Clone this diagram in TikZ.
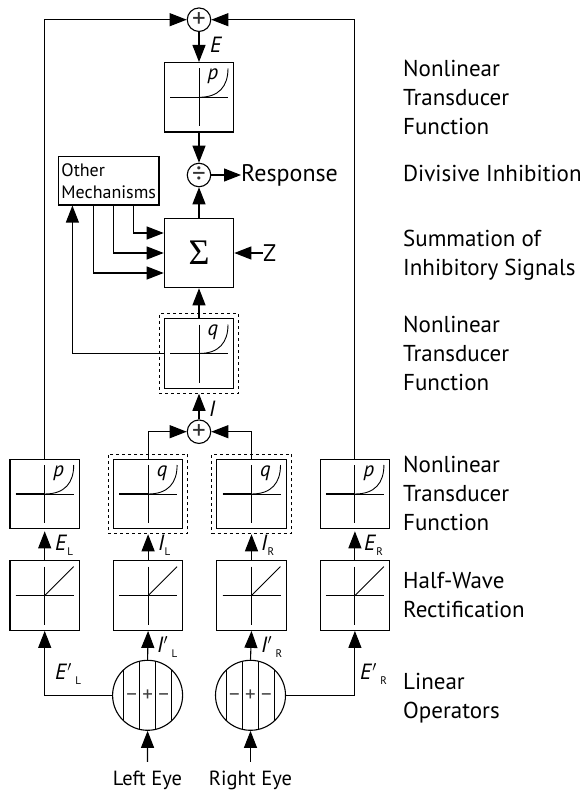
\documentclass[tikz,border=0pt]{standalone}
\usepackage{fontspec}
\setmainfont{PT Sans}
\newfontfamily\sigmafont{Liberation Serif}
\usepackage{tikz}
\usetikzlibrary{positioning,calc,fit,arrows.meta}
\tikzset{
  signal/.style={-{Triangle[length=17pt,width=13pt]},line width=1.1pt},
  funcbox/.style={draw,line width=1.1pt,minimum size=69.5pt,inner sep=0pt},
  dashbox/.style={draw,dashed,dash pattern=on 3pt off 3pt,line width=0.9pt,inner sep=4.5pt},
  sumnode/.style={draw,circle,line width=1.1pt,minimum size=23.5pt,inner sep=0pt,text=black!80,font=\fontsize{27}{27}\selectfont},
  lensnode/.style={draw,circle,line width=1.1pt,minimum size=70pt,inner sep=0pt,text=black!75,font=\fontsize{21}{21}\selectfont},
  eyelabel/.style={inner sep=1pt,minimum height=36pt,font=\fontsize{20.5}{20.5}\selectfont},
  rowlabel/.style={anchor=west,align=left,inner sep=0pt,font=\fontsize{23}{29}\selectfont},
  varlabel/.style={anchor=west,inner sep=0pt,font=\fontsize{22}{22}\selectfont}
}
\newcommand{\idx}[1]{\raisebox{-5pt}{\fontsize{11}{11}\selectfont #1}}
\newcommand{\lensmarks}{\makebox[16pt]{−}\makebox[16pt]{+}\makebox[16pt]{−}}
\newcommand{\axes}[1]{
  \draw[line width=0.9pt] ($(#1.center)+(-29,0)$) -- ($(#1.center)+(29,0)$);
  \draw[line width=0.9pt] ($(#1.center)+(0,-29)$) -- ($(#1.center)+(0,29)$);
}
\newcommand{\zerohalf}[1]{
  \draw[line width=1.6pt] ($(#1.center)+(-29,0)$) -- (#1.center);
}
\newcommand{\powergraph}[2]{
  \axes{#1}
  \draw[line width=0.9pt] (#1.center) .. controls ($(#1.center)+(20,0)$) and ($(#1.center)+(29,-11)$) .. ($(#1.center)+(29,-29)$);
  \node[font=\fontsize{21}{21}\selectfont\itshape,inner sep=0pt] (#1label) at ($(#1.center)+(14,-21)$) {#2};
}
\newcommand{\rectgraph}[1]{
  \axes{#1}
  \zerohalf{#1}
  \draw[line width=0.9pt] (#1.center) -- ($(#1.center)+(29,-29)$);
}
\newcommand{\lensbars}[1]{
  \draw[line width=0.9pt] ($(#1.center)+(-24,-25.5)$) -- ($(#1.center)+(-24,25.5)$);
  \draw[line width=0.9pt] ($(#1.center)+(-8,-34)$) -- ($(#1.center)+(-8,34)$);
  \draw[line width=0.9pt] ($(#1.center)+(8,-34)$) -- ($(#1.center)+(8,34)$);
  \draw[line width=0.9pt] ($(#1.center)+(24,-25.5)$) -- ($(#1.center)+(24,25.5)$);
}
\begin{document}
\begin{tikzpicture}[x=1pt,y=-1pt]
  \useasboundingbox (0,0) rectangle (584,794);

  \node[sumnode] (sumtop) at (199,19.7) {+};
  \node[funcbox] (functop) at (199,97.3) {};
  \node[sumnode] (divide) at (199,175) {÷};
  \node[funcbox] (sigma) at (199,253) {\sigmafont\fontsize{36}{36}\selectfont Σ};
  \node[funcbox] (funcmid) at (199,353.5) {};
  \node[dashbox,fit=(funcmid)] (dashmid) {};
  \node[sumnode] (sumbot) at (199,431.7) {+};
  \node[draw,line width=1.1pt,minimum width=100.5pt,minimum height=48.5pt,inner sep=1pt,align=left,font=\fontsize{18}{22}\selectfont] (other) at (108.7,180.75) {Other\\Mechanisms};

  \node[funcbox] (funcEL) at (44.7,494) {};
  \node[funcbox,right=32.8pt of funcEL] (funcIL) {};
  \node[funcbox,right=32.8pt of funcIL] (funcIR) {};
  \node[funcbox,right=32.8pt of funcIR] (funcER) {};
  \node[dashbox,fit=(funcIL)] (dashIL) {};
  \node[dashbox,fit=(funcIR)] (dashIR) {};

  \node[funcbox,below=31pt of funcEL] (rectEL) {};
  \node[funcbox,below=31pt of funcIL] (rectIL) {};
  \node[funcbox,below=31pt of funcIR] (rectIR) {};
  \node[funcbox,below=31pt of funcER] (rectER) {};

  \node[lensnode] (lensL) at (147.6,695.3) {\lensmarks};
  \node[lensnode] (lensR) at (250.5,695.3) {\lensmarks};
  \node[eyelabel] (eyeL) at (147.5,780) {Left Eye};
  \node[eyelabel] (eyeR) at (250.5,780) {Right Eye};
  \node[rowlabel,font=\fontsize{24}{24}\selectfont] (resp) at (241,175) {Response};
  \node[rowlabel,font=\fontsize{24}{24}\selectfont] (zin) at (263,253) {Z};

  \powergraph{functop}{p}
  \powergraph{funcmid}{q}
  \zerohalf{funcmid}
  \powergraph{funcEL}{p}
  \zerohalf{funcEL}
  \powergraph{funcIL}{q}
  \zerohalf{funcIL}
  \powergraph{funcIR}{q}
  \zerohalf{funcIR}
  \powergraph{funcER}{p}
  \zerohalf{funcER}
  \rectgraph{rectEL}
  \rectgraph{rectIL}
  \rectgraph{rectIR}
  \rectgraph{rectER}
  \lensbars{lensL}
  \lensbars{lensR}

  \draw[signal] (funcEL.north) |- (sumtop.west);
  \draw[signal] (funcER.north) |- (sumtop.east);
  \draw[signal] (sumtop.south) -- (functop.north);
  \draw[signal] (functop.south) -- (divide.north);
  \draw[signal] (sigma.north) -- (divide.south);
  \draw[signal] (divide.east) -- (resp.west);
  \draw[signal] (zin.west) -- (sigma.east);
  \draw[signal] (funcmid.north) -- (sigma.south);
  \draw[signal] (funcmid.west) -| ($(other.south west)+(14.5,0)$);
  \draw[signal] ($(other.south west)+(35.5,0)$) |- ($(sigma.west)+(0,20)$);
  \draw[signal] ($(other.south west)+(55.5,0)$) |- (sigma.west);
  \draw[signal] ($(other.south west)+(75.5,0)$) |- ($(sigma.west)+(0,-20)$);
  \draw[signal] (sumbot.north) -- (dashmid.south);
  \draw[signal] (funcIL.north) |- (sumbot.west);
  \draw[signal] (funcIR.north) |- (sumbot.east);

  \draw[signal,shorten >=2pt] (rectEL.north) -- (funcEL.south);
  \draw[signal] (rectIL.north) -- (dashIL.south);
  \draw[signal] (rectIR.north) -- (dashIR.south);
  \draw[signal,shorten >=2pt] (rectER.north) -- (funcER.south);

  \draw[signal] (lensL.west) -| (rectEL.south);
  \draw[signal] (lensL.north) -- (rectIL.south);
  \draw[signal] (lensR.north) -- (rectIR.south);
  \draw[signal] (lensR.east) -| (rectER.south);
  \draw[signal] (eyeL.north) -- (lensL.south);
  \draw[signal] (eyeR.north) -- (lensR.south);

  \node[varlabel] (labE) at (210,45) {\textit{E}};
  \node[varlabel] (labI) at (209,409) {\textit{I}};
  \node[varlabel] (labEL) at (55,545) {\textit{E}\idx{L}};
  \node[varlabel] (labIL) at (158,545) {\textit{I}\idx{L}};
  \node[varlabel] (labIR) at (261,545) {\textit{I}\idx{R}};
  \node[varlabel] (labER) at (364,545) {\textit{E}\idx{R}};
  \node[varlabel] (labELp) at (55,674) {\textit{E}$'$\,\idx{L}};
  \node[varlabel] (labERp) at (360,674) {\textit{E}$'$\,\idx{R}};
  \node[varlabel] (labILp) at (157,647) {\textit{I}$'$\,\idx{L}};
  \node[varlabel] (labIRp) at (261,647) {\textit{I}$'$\,\idx{R}};

  \node[rowlabel] (rowA) at (403,97.5) {Nonlinear\\Transducer\\Function};
  \node[rowlabel] (rowB) at (403,173.5) {Divisive Inhibition};
  \node[rowlabel] (rowC) at (403,255.7) {Summation of\\Inhibitory Signals};
  \node[rowlabel] (rowD) at (403,353.5) {Nonlinear\\Transducer\\Function};
  \node[rowlabel] (rowE) at (403,493.7) {Nonlinear\\Transducer\\Function};
  \node[rowlabel] (rowF) at (403,595.5) {Half-Wave\\Rectification};
  \node[rowlabel] (rowG) at (403,698.5) {Linear\\Operators};
\end{tikzpicture}
\end{document}
